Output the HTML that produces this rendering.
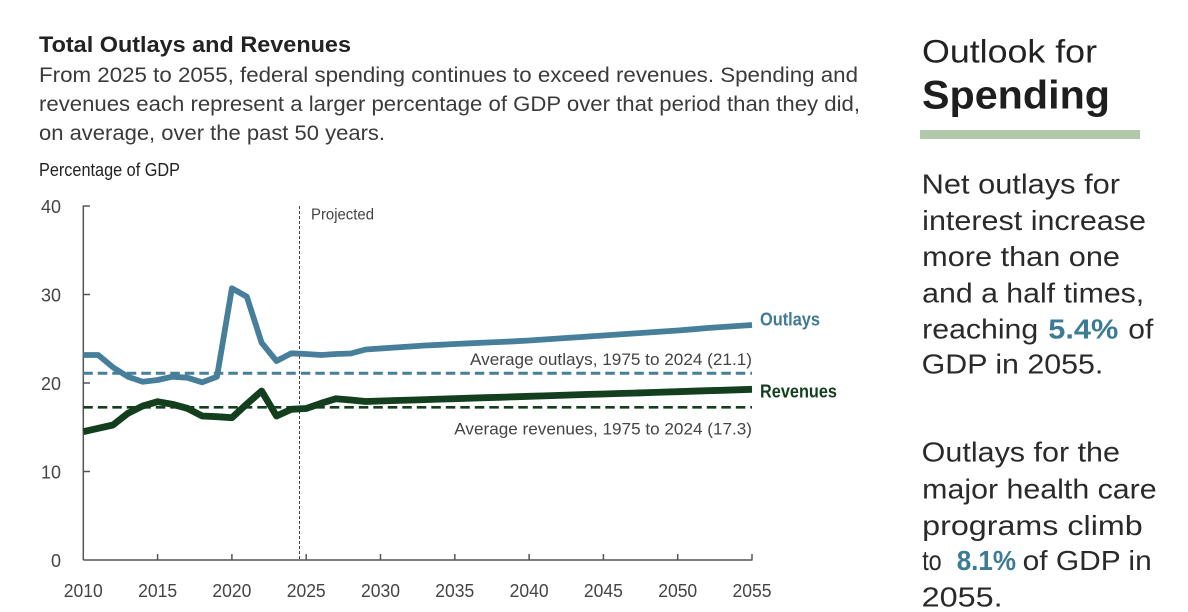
<!DOCTYPE html>
<html>
<head>
<meta charset="utf-8">
<style>
  html, body { margin:0; padding:0; background:#ffffff; }
  body { width:1188px; height:612px; overflow:hidden; }
  svg { display:block; }
  text { font-family: "Liberation Sans", Arial, sans-serif; }
</style>
</head>
<body>
<svg width="1188" height="612" viewBox="0 0 1188 612" xmlns="http://www.w3.org/2000/svg">
  <rect x="0" y="0" width="1188" height="612" fill="#ffffff"/>

  <!-- Title and subtitle -->
  <text x="39" y="52" font-size="22.5" font-weight="bold" fill="#222" textLength="312" lengthAdjust="spacingAndGlyphs">Total Outlays and Revenues</text>
  <text x="39" y="82" font-size="21" fill="#3a3a3a" textLength="819" lengthAdjust="spacingAndGlyphs">From 2025 to 2055, federal spending continues to exceed revenues. Spending and</text>
  <text x="39" y="111" font-size="21" fill="#3a3a3a" textLength="821" lengthAdjust="spacingAndGlyphs">revenues each represent a larger percentage of GDP over that period than they did,</text>
  <text x="39" y="140" font-size="21" fill="#3a3a3a" textLength="346" lengthAdjust="spacingAndGlyphs">on average, over the past 50 years.</text>
  <text x="39" y="176" font-size="18.5" fill="#222" textLength="141" lengthAdjust="spacingAndGlyphs">Percentage of GDP</text>

  <!-- Y axis labels -->
  <g font-size="18" fill="#444" text-anchor="end">
    <text x="61" y="213" textLength="20" lengthAdjust="spacingAndGlyphs">40</text>
    <text x="61" y="301.5" textLength="20" lengthAdjust="spacingAndGlyphs">30</text>
    <text x="61" y="390" textLength="20" lengthAdjust="spacingAndGlyphs">20</text>
    <text x="61" y="478.5" textLength="20" lengthAdjust="spacingAndGlyphs">10</text>
    <text x="61" y="567">0</text>
  </g>

  <!-- Axes -->
  <g stroke="#555" stroke-width="1.5" fill="none">
    <line x1="83.3" y1="205.5" x2="83.3" y2="560"/>
    <line x1="83.3" y1="560" x2="752.5" y2="560"/>
    <line x1="83.3" y1="206" x2="90" y2="206"/>
    <line x1="83.3" y1="294.5" x2="90" y2="294.5"/>
    <line x1="83.3" y1="383" x2="90" y2="383"/>
    <line x1="83.3" y1="471.5" x2="90" y2="471.5"/>
    <line x1="157.6" y1="554" x2="157.6" y2="560"/>
    <line x1="231.9" y1="554" x2="231.9" y2="560"/>
    <line x1="306.2" y1="554" x2="306.2" y2="560"/>
    <line x1="380.5" y1="554" x2="380.5" y2="560"/>
    <line x1="454.8" y1="554" x2="454.8" y2="560"/>
    <line x1="529.1" y1="554" x2="529.1" y2="560"/>
    <line x1="603.4" y1="554" x2="603.4" y2="560"/>
    <line x1="677.7" y1="554" x2="677.7" y2="560"/>
    <line x1="752" y1="554" x2="752" y2="560"/>
  </g>

  <!-- X axis labels -->
  <g font-size="18.5" fill="#444" text-anchor="middle">
    <text x="83.3" y="597" textLength="39" lengthAdjust="spacingAndGlyphs">2010</text>
    <text x="157.6" y="597" textLength="39" lengthAdjust="spacingAndGlyphs">2015</text>
    <text x="231.9" y="597" textLength="39" lengthAdjust="spacingAndGlyphs">2020</text>
    <text x="306.2" y="597" textLength="39" lengthAdjust="spacingAndGlyphs">2025</text>
    <text x="380.5" y="597" textLength="39" lengthAdjust="spacingAndGlyphs">2030</text>
    <text x="454.8" y="597" textLength="39" lengthAdjust="spacingAndGlyphs">2035</text>
    <text x="529.1" y="597" textLength="39" lengthAdjust="spacingAndGlyphs">2040</text>
    <text x="603.4" y="597" textLength="39" lengthAdjust="spacingAndGlyphs">2045</text>
    <text x="677.7" y="597" textLength="39" lengthAdjust="spacingAndGlyphs">2050</text>
    <text x="752" y="597" textLength="39" lengthAdjust="spacingAndGlyphs">2055</text>
  </g>

  <!-- Projected divider -->
  <line x1="299.5" y1="206" x2="299.5" y2="560" stroke="#444" stroke-width="1" stroke-dasharray="3 2"/>
  <text x="311" y="219.5" font-size="15.5" fill="#444" textLength="63" lengthAdjust="spacingAndGlyphs">Projected</text>

  <!-- Outlays series -->
  <polyline fill="none" stroke="#477f9b" stroke-width="5.8" stroke-linejoin="round" stroke-linecap="butt"
    points="83.3,355 98.2,355 113.0,367.3 127.9,376.7 142.7,381.7 157.6,380 172.5,376.7 187.3,377.7 202.2,382.3 217.0,376.7 231.9,288.3 246.8,296.7 261.6,342.7 276.5,361 291.3,353.3 306.2,354 321.1,355 335.9,354 350.8,353.5 365.6,349.5 380.5,348.5 395.4,347.5 410.2,346.5 425.1,345.5 439.9,344.8 454.8,344 469.7,343.3 484.5,342.6 499.4,342 514.2,341.3 529.1,340.5 544.0,339.5 558.8,338.5 573.7,337.5 588.5,336.5 603.4,335.5 618.3,334.5 633.1,333.5 648.0,332.5 662.8,331.5 677.7,330.5 692.6,329.3 707.4,328 722.3,327 737.1,326 752.0,325"/>

  <!-- Revenues series -->
  <polyline fill="none" stroke="#133f1f" stroke-width="6.8" stroke-linejoin="round" stroke-linecap="butt"
    points="83.3,431.7 98.2,428.3 113.0,425 127.9,413.3 142.7,406 157.6,401.7 172.5,404.3 187.3,408.3 202.2,416 217.0,416.7 231.9,417.7 246.8,404 261.6,391 276.5,416 291.3,409.3 306.2,408.5 321.1,403.3 335.9,398.7 350.8,400 365.6,401.5 380.5,401 395.4,400.5 410.2,400.1 425.1,399.6 439.9,399.1 454.8,398.7 469.7,398.2 484.5,397.7 499.4,397.3 514.2,396.8 529.1,396.3 544.0,395.9 558.8,395.4 573.7,394.9 588.5,394.4 603.4,394.0 618.3,393.5 633.1,393.1 648.0,392.6 662.8,392.1 677.7,391.7 692.6,391.2 707.4,390.7 722.3,390.3 737.1,389.8 752.0,389.3"/>

  <!-- Average lines -->
  <line x1="83.3" y1="373.3" x2="752" y2="373.3" stroke="#477f9b" stroke-width="3" stroke-dasharray="9.5 5"/>
  <line x1="83.3" y1="407.3" x2="752" y2="407.3" stroke="#133f1f" stroke-width="2.6" stroke-dasharray="9.5 5"/>

  <!-- Series labels -->
  <text x="760" y="325.7" font-size="18" font-weight="bold" fill="#3f7a96" textLength="60" lengthAdjust="spacingAndGlyphs">Outlays</text>
  <text x="760" y="397.3" font-size="18" font-weight="bold" fill="#133f1f" textLength="77" lengthAdjust="spacingAndGlyphs">Revenues</text>
  <text x="470" y="365" font-size="16.8" fill="#444" textLength="282" lengthAdjust="spacingAndGlyphs">Average outlays, 1975 to 2024 (21.1)</text>
  <text x="454.3" y="434.5" font-size="16.8" fill="#444" textLength="297.7" lengthAdjust="spacingAndGlyphs">Average revenues, 1975 to 2024 (17.3)</text>

  <!-- Right panel -->
  <text x="922" y="62.5" font-size="32" fill="#222" textLength="175" lengthAdjust="spacingAndGlyphs">Outlook for</text>
  <text x="922" y="108.5" font-size="40" font-weight="bold" fill="#1e1e1e" textLength="188" lengthAdjust="spacingAndGlyphs">Spending</text>
  <rect x="920" y="130" width="220" height="9" fill="#b2c8aa"/>

  <g font-size="28" fill="#2a2a2a">
    <text x="921.7" y="193.3" textLength="198.3" lengthAdjust="spacingAndGlyphs">Net outlays for</text>
    <text x="922.2" y="230" textLength="223.8" lengthAdjust="spacingAndGlyphs">interest increase</text>
    <text x="922.2" y="266" textLength="197.8" lengthAdjust="spacingAndGlyphs">more than one</text>
    <text x="922.2" y="302.7" textLength="222" lengthAdjust="spacingAndGlyphs">and a half times,</text>
    <text x="922.2" y="338.3" textLength="116" lengthAdjust="spacingAndGlyphs">reaching</text>
    <text x="1048.3" y="338.3" font-weight="bold" fill="#3d7a94" textLength="70" lengthAdjust="spacingAndGlyphs">5.4%</text>
    <text x="1128.3" y="338.3" textLength="25" lengthAdjust="spacingAndGlyphs">of</text>
    <text x="921.7" y="373.3" textLength="181.6" lengthAdjust="spacingAndGlyphs">GDP in 2055.</text>

    <text x="921.7" y="461.7" textLength="198.3" lengthAdjust="spacingAndGlyphs">Outlays for the</text>
    <text x="922.2" y="498.3" textLength="234.5" lengthAdjust="spacingAndGlyphs">major health care</text>
    <text x="922.2" y="535" textLength="220.5" lengthAdjust="spacingAndGlyphs">programs climb</text>
    <text x="922.2" y="570" textLength="19.5" lengthAdjust="spacingAndGlyphs">to</text>
    <text x="956.7" y="570" font-weight="bold" fill="#3d7a94" textLength="59.3" lengthAdjust="spacingAndGlyphs">8.1%</text>
    <text x="1022.7" y="570" textLength="129" lengthAdjust="spacingAndGlyphs">of GDP in</text>
    <text x="921.7" y="606.7" textLength="81" lengthAdjust="spacingAndGlyphs">2055.</text>
  </g>
</svg>
</body>
</html>
